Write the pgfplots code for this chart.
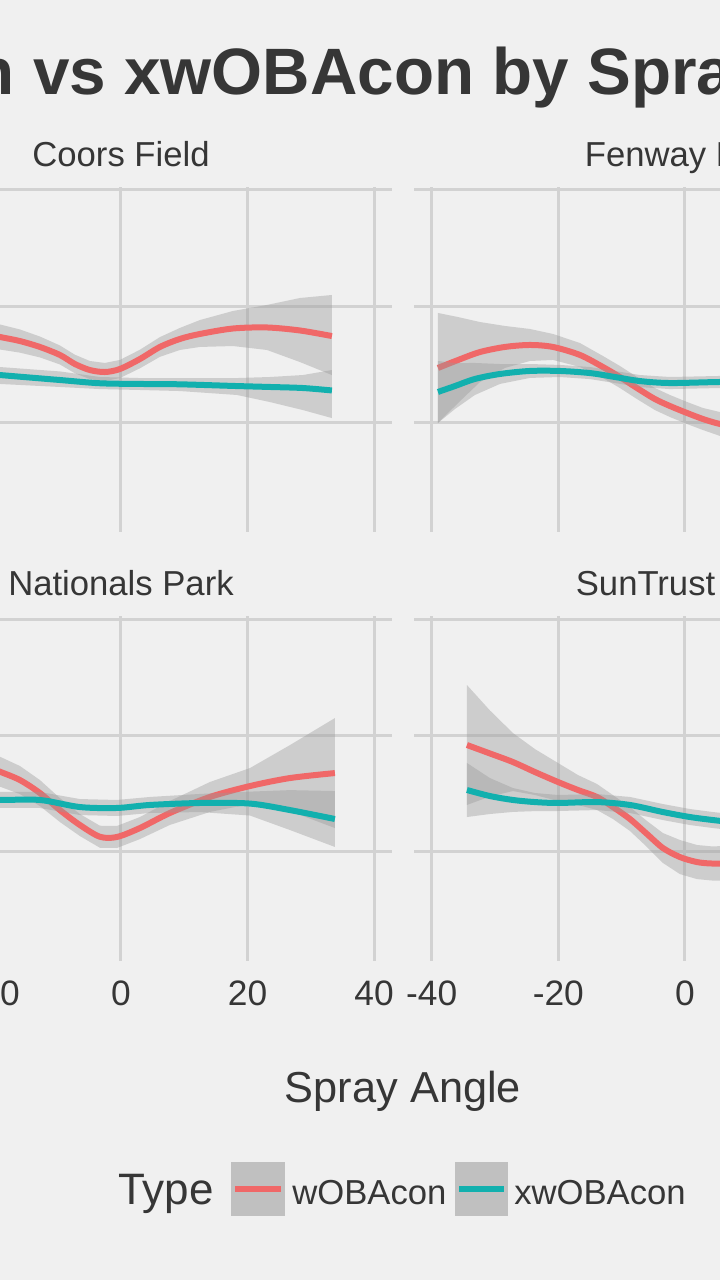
\documentclass[border=0pt]{standalone}
\usepackage{fontspec}
\setmainfont{Liberation Sans}
\usepackage{pgfplots}
\pgfplotsset{compat=1.18}
\usepackage{pgfplotstable}
\definecolor{bg}{HTML}{F0F0F0}
\definecolor{gridc}{HTML}{D2D2D2}
\definecolor{txt}{HTML}{363636}
\definecolor{cred}{HTML}{F06868}
\definecolor{cteal}{HTML}{12B0AE}
\definecolor{ribc}{HTML}{999999}

% ---------- Coors Field ----------
\pgfplotstableread{
x y
-22.00 0.3765
-19.12 0.3733
-15.96 0.3698
-12.80 0.3647
-9.64 0.3578
-7.27 0.3500
-4.90 0.3448
-2.53 0.3431
-0.16 0.3457
3.00 0.3543
6.16 0.3647
9.32 0.3716
12.48 0.3759
17.69 0.3806
23.06 0.3815
28.28 0.3789
33.33 0.3741
}\TLr
\pgfplotstableread{
x y
-22.00 0.3877
-19.12 0.3841
-15.96 0.3798
-12.80 0.3737
-9.64 0.3660
-7.27 0.3580
-4.90 0.3526
-2.53 0.3509
-0.16 0.3535
3.00 0.3623
6.16 0.3732
9.32 0.3811
12.48 0.3879
17.69 0.3957
23.06 0.4009
28.28 0.4069
33.33 0.4095
33.33 0.3405
28.28 0.3517
23.06 0.3621
17.69 0.3655
12.48 0.3647
9.32 0.3621
6.16 0.3562
3.00 0.3463
-0.16 0.3379
-2.53 0.3353
-4.90 0.3370
-7.27 0.3420
-9.64 0.3496
-12.80 0.3557
-15.96 0.3598
-19.12 0.3625
-22.00 0.3653
}\TLrR
\pgfplotstableread{
x y
-22.00 0.3420
-19.12 0.3405
-9.64 0.3362
-3.32 0.3334
3.00 0.3328
9.32 0.3325
18.33 0.3310
23.54 0.3302
28.75 0.3293
33.33 0.3272
}\TLt
\pgfplotstableread{
x y
-22.00 0.3490
-19.12 0.3474
-9.64 0.3436
-3.32 0.3388
3.00 0.3379
9.32 0.3379
18.33 0.3379
23.54 0.3388
28.75 0.3405
33.33 0.3448
33.33 0.3034
28.75 0.3103
23.54 0.3172
18.33 0.3233
9.32 0.3267
3.00 0.3276
-3.32 0.3284
-9.64 0.3302
-19.12 0.3328
-22.00 0.3345
}\TLtR
% ---------- Fenway Park ----------
\pgfplotstableread{
x y
-39.02 0.3466
-35.86 0.3534
-32.39 0.3603
-28.44 0.3647
-24.49 0.3664
-20.85 0.3647
-16.59 0.3578
-12.95 0.3474
-10.27 0.3388
-7.58 0.3293
-4.74 0.3198
-2.37 0.3138
0.32 0.3078
2.84 0.3026
5.53 0.2983
8.69 0.2957
11.85 0.2940
}\TRr
\pgfplotstableread{
x y
-39.02 0.3940
-35.86 0.3905
-32.39 0.3862
-28.44 0.3828
-24.49 0.3802
-20.85 0.3759
-16.59 0.3681
-12.95 0.3569
-10.27 0.3483
-7.58 0.3388
-4.74 0.3293
-2.37 0.3233
0.32 0.3173
2.84 0.3121
5.53 0.3086
8.69 0.3069
11.85 0.3061
11.85 0.2819
8.69 0.2845
5.53 0.2880
2.84 0.2931
0.32 0.2983
-2.37 0.3043
-4.74 0.3103
-7.58 0.3198
-10.27 0.3293
-12.95 0.3379
-16.59 0.3475
-20.85 0.3535
-24.49 0.3526
-28.44 0.3466
-32.39 0.3344
-35.86 0.3163
-39.02 0.2992
}\TRrR
\pgfplotstableread{
x y
-39.02 0.3259
-36.33 0.3310
-33.18 0.3371
-29.23 0.3414
-24.49 0.3440
-19.75 0.3440
-15.01 0.3422
-11.06 0.3388
-7.11 0.3353
-2.37 0.3336
5.53 0.3345
11.85 0.3345
}\TRt
\pgfplotstableread{
x y
-39.02 0.3526
-36.33 0.3508
-33.18 0.3509
-29.23 0.3500
-24.49 0.3500
-19.75 0.3492
-15.01 0.3474
-11.06 0.3440
-7.11 0.3405
-2.37 0.3388
5.53 0.3397
11.85 0.3397
11.85 0.3293
5.53 0.3293
-2.37 0.3284
-7.11 0.3301
-11.06 0.3336
-15.01 0.3370
-19.75 0.3388
-24.49 0.3380
-29.23 0.3328
-33.18 0.3233
-36.33 0.3112
-39.02 0.2992
}\TRtR
% ---------- Nationals Park ----------
\pgfplotstableread{
x y
-21.99 0.3746
-19.12 0.3684
-15.96 0.3612
-12.80 0.3500
-9.64 0.3353
-6.48 0.3224
-3.32 0.3123
-0.63 0.3121
3.00 0.3198
7.74 0.3328
14.06 0.3466
20.38 0.3560
26.70 0.3629
33.80 0.3672
}\BLr
\pgfplotstableread{
x y
-21.99 0.3884
-19.12 0.3813
-15.96 0.3733
-12.80 0.3612
-9.64 0.3456
-6.48 0.3319
-3.32 0.3218
-0.63 0.3216
3.00 0.3293
7.74 0.3431
14.06 0.3595
20.38 0.3715
26.70 0.3913
33.80 0.4146
33.80 0.3198
26.70 0.3345
20.38 0.3405
14.06 0.3337
7.74 0.3225
3.00 0.3103
-0.63 0.3026
-3.32 0.3028
-6.48 0.3129
-9.64 0.3250
-12.80 0.3388
-15.96 0.3491
-19.12 0.3555
-21.99 0.3608
}\BLrR
\pgfplotstableread{
x y
-21.99 0.3450
-19.12 0.3440
-12.80 0.3440
-6.48 0.3379
-0.63 0.3371
4.58 0.3397
12.48 0.3414
20.38 0.3409
26.70 0.3353
33.80 0.3276
}\BLt
\pgfplotstableread{
x y
-21.99 0.3519
-19.12 0.3509
-12.80 0.3509
-6.48 0.3448
-0.63 0.3440
4.58 0.3466
12.48 0.3492
20.38 0.3512
26.70 0.3525
33.80 0.3517
33.80 0.3035
26.70 0.3181
20.38 0.3306
12.48 0.3336
4.58 0.3328
-0.63 0.3302
-6.48 0.3310
-12.80 0.3371
-19.12 0.3371
-21.99 0.3381
}\BLtR
% ---------- SunTrust Park ----------
\pgfplotstableread{
x y
-34.44 0.3914
-30.81 0.3841
-27.17 0.3767
-23.70 0.3681
-20.06 0.3595
-16.90 0.3526
-13.90 0.3466
-11.37 0.3379
-8.69 0.3276
-6.00 0.3147
-3.48 0.3026
-0.79 0.2948
1.90 0.2905
4.42 0.2892
8.69 0.2897
}\BRr
\pgfplotstableread{
x y
-34.44 0.4431
-30.81 0.4212
-27.17 0.4017
-23.70 0.3879
-20.06 0.3759
-16.90 0.3655
-13.90 0.3578
-11.37 0.3482
-8.69 0.3379
-6.00 0.3259
-3.48 0.3155
-0.79 0.3095
1.90 0.3052
4.42 0.3039
8.69 0.3052
8.69 0.2742
4.42 0.2745
1.90 0.2758
-0.79 0.2801
-3.48 0.2897
-6.00 0.3035
-8.69 0.3173
-11.37 0.3276
-13.90 0.3354
-16.90 0.3397
-20.06 0.3431
-23.70 0.3483
-27.17 0.3517
-30.81 0.3470
-34.44 0.3397
}\BRrR
\pgfplotstableread{
x y
-34.44 0.3526
-30.81 0.3474
-27.17 0.3440
-23.70 0.3422
-20.06 0.3414
-13.90 0.3422
-8.69 0.3397
-3.48 0.3336
0.79 0.3293
4.42 0.3267
8.69 0.3241
}\BRt
\pgfplotstableread{
x y
-34.44 0.3759
-30.81 0.3629
-27.17 0.3543
-23.70 0.3500
-20.06 0.3483
-13.90 0.3491
-8.69 0.3466
-3.48 0.3405
0.79 0.3362
4.42 0.3336
8.69 0.3310
8.69 0.3172
4.42 0.3198
0.79 0.3224
-3.48 0.3267
-8.69 0.3328
-13.90 0.3353
-20.06 0.3345
-23.70 0.3344
-27.17 0.3337
-30.81 0.3319
-34.44 0.3293
}\BRtR

\pgfplotsset{
  panel/.style={scale only axis, width=406.4pt, height=258.75pt,
    xmin=-42.8, xmax=42.8, ymin=0.2052, ymax=0.5026,
    axis line style={draw=none}, major tick length=0pt,
    xtick={-40,-20,0,20,40}, ytick={0.3,0.4,0.5},
    xmajorgrids, ymajorgrids,
    major grid style={draw=gridc, line width=2.25pt},
    yticklabels={}, xticklabels={}, anchor=south west},
  bpanel/.style={xticklabels={-40,-20,0,20,40},
    xticklabel style={font=\fontsize{26.5}{27}\selectfont, text=txt,
      anchor=base, yshift=-33.5pt, inner sep=0pt}},
  rib/.style={draw=none, fill=ribc, fill opacity=0.4},
  lr/.style={cred, line width=4.5pt, smooth},
  lt/.style={cteal, line width=4.5pt, smooth},
}

\begin{document}
\begin{tikzpicture}
\fill[bg] (0,0) rectangle (540pt,960pt);
\begin{scope}
\clip (0,0) rectangle (540pt,960pt);

% top-left
\begin{axis}[panel, at={(-112.5pt,561pt)}]
  \addplot[rib] table[x=x,y=y]{\TLrR};
  \addplot[lr] table[x=x,y=y]{\TLr};
  \addplot[rib] table[x=x,y=y]{\TLtR};
  \addplot[lt] table[x=x,y=y]{\TLt};
\end{axis}
% top-right
\begin{axis}[panel, at={(310.5pt,561pt)}]
  \addplot[rib] table[x=x,y=y]{\TRrR};
  \addplot[lr] table[x=x,y=y]{\TRr};
  \addplot[rib] table[x=x,y=y]{\TRtR};
  \addplot[lt] table[x=x,y=y]{\TRt};
\end{axis}
% bottom-left
\begin{axis}[panel, bpanel, at={(-112.5pt,239.25pt)}]
  \addplot[rib] table[x=x,y=y]{\BLrR};
  \addplot[lr] table[x=x,y=y]{\BLr};
  \addplot[rib] table[x=x,y=y]{\BLtR};
  \addplot[lt] table[x=x,y=y]{\BLt};
\end{axis}
% bottom-right
\begin{axis}[panel, bpanel, at={(310.5pt,239.25pt)}]
  \addplot[rib] table[x=x,y=y]{\BRrR};
  \addplot[lr] table[x=x,y=y]{\BRr};
  \addplot[rib] table[x=x,y=y]{\BRtR};
  \addplot[lt] table[x=x,y=y]{\BRt};
\end{axis}

% title
\node[anchor=base west, inner sep=0pt, text=txt,
  font=\fontsize{49.2}{50}\selectfont\bfseries] at (24.75pt,888.75pt)
  {\llap{wOBAcon\ }vs xwOBAcon by Spray Angle};
% strips
\begin{scope}[every node/.style={anchor=base, inner sep=0pt, text=txt,
  font=\fontsize{26}{27}\selectfont}]
\node at (90.75pt,834.75pt) {Coors Field};
\node at (514.5pt,834.75pt) {Fenway Park};
\node at (90.75pt,513pt) {Nationals Park};
\node at (514.5pt,513pt) {SunTrust Park};
\end{scope}
% axis title
\node[anchor=base, inner sep=0pt, text=txt, font=\fontsize{32.5}{33}\selectfont]
  at (302.25pt,132.75pt) {Spray Angle};
% legend
\node[anchor=base west, inner sep=0pt, text=txt, font=\fontsize{33}{34}\selectfont]
  at (88.5pt,56.25pt) {Type};
\fill[ribc, fill opacity=0.55] (173.25pt,48pt) rectangle (213.75pt,88.5pt);
\draw[cred, line width=4.5pt] (176.25pt,68.25pt) -- (210.75pt,68.25pt);
\node[anchor=base west, inner sep=0pt, text=txt, font=\fontsize{26}{27}\selectfont]
  at (219pt,56.25pt) {wOBAcon};
\fill[ribc, fill opacity=0.55] (341.25pt,48pt) rectangle (381pt,88.5pt);
\draw[cteal, line width=4.5pt] (344.25pt,68.25pt) -- (378pt,68.25pt);
\node[anchor=base west, inner sep=0pt, text=txt, font=\fontsize{26}{27}\selectfont]
  at (385.5pt,56.25pt) {xwOBAcon};
\end{scope}
\pgfresetboundingbox
\useasboundingbox (0,0) rectangle (540pt,960pt);
\end{tikzpicture}
\end{document}
